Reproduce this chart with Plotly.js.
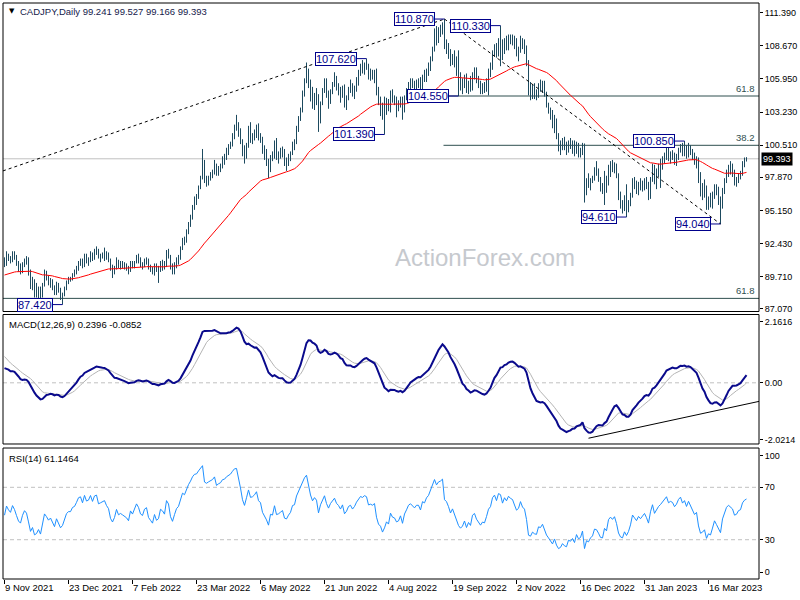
<!DOCTYPE html>
<html><head><meta charset="utf-8">
<script src="https://cdn.plot.ly/plotly-3.0.1.min.js"></script>
<style>html,body{margin:0;padding:0;background:#fff;}#chart{width:800px;height:600px;}</style>
</head><body><div id="chart"></div>
<script>
// ---- data (daily bars, weekdays from 9 Nov 2021) ----
const tickLabels = ['9 Nov 2021','23 Dec 2021','7 Feb 2022','23 Mar 2022','6 May 2022','21 Jun 2022','4 Aug 2022','19 Sep 2022','2 Nov 2022','16 Dec 2022','31 Jan 2023','16 Mar 2023'];
const tickBars = [0,32,64,96,128,160,192,224,256,288,320,352];

const O = [91.0,90.7,91.5,91.2,91.0,91.6,91.3,90.8,90.3,90.1,
90.7,91.1,90.9,90.1,89.0,89.3,88.3,88.4,88.7,88.1,
89.0,89.9,89.6,89.2,89.4,88.8,88.4,89.1,88.6,88.0,
88.2,88.8,89.3,89.5,89.5,89.9,90.0,90.4,90.9,91.0,
90.6,91.4,91.0,91.1,91.6,91.2,91.8,91.9,91.3,91.4,
91.5,91.6,91.3,91.1,90.4,90.1,90.4,91.0,90.6,90.7,
90.6,90.5,90.4,90.2,90.8,90.6,90.9,91.3,91.1,90.7,
90.6,91.0,91.1,90.5,90.3,90.1,90.6,90.2,90.3,90.9,
90.8,90.6,91.6,91.4,90.5,90.1,90.6,91.1,91.3,92.0,
92.7,92.6,93.4,94.0,94.6,95.5,96.1,96.2,97.0,97.8,
98.8,97.6,97.5,97.8,98.1,98.3,98.9,98.3,98.6,98.8,
99.4,99.5,100.0,100.4,100.6,101.3,102.0,102.1,101.6,100.9,
100.0,99.5,100.5,101.8,101.1,101.2,101.5,102.0,101.2,101.0,
100.0,99.6,99.1,98.4,99.6,99.5,100.7,99.6,99.7,99.9,
100.1,99.2,99.1,99.5,99.8,100.6,100.7,101.9,102.7,103.3,
104.7,105.8,106.6,105.5,104.6,103.9,104.5,104.2,102.5,103.9,
105.0,105.8,104.7,104.0,104.9,105.5,106.0,105.3,105.0,104.5,
105.2,103.9,104.3,105.1,105.3,104.8,105.2,105.9,106.5,106.9,
106.8,107.1,107.0,106.2,106.3,106.2,106.4,105.0,104.1,103.8,
102.9,103.3,103.9,103.6,104.8,104.3,104.2,103.7,103.8,104.3,
103.4,104.4,104.9,105.5,105.7,105.5,105.3,105.6,105.6,105.2,
106.1,106.0,106.6,106.9,107.6,108.4,109.6,109.2,109.8,110.0,
110.4,108.7,108.5,108.0,107.3,107.8,107.1,106.6,105.7,105.3,
105.5,106.0,105.1,105.6,105.2,106.3,106.5,105.8,105.4,105.0,
105.3,105.2,105.8,106.6,106.9,108.1,108.5,108.0,109.1,109.0,
108.2,109.0,108.7,109.4,109.2,109.1,108.6,108.1,108.3,109.1,
108.6,108.4,107.3,104.8,104.6,105.0,104.7,104.6,105.3,105.2,
105.5,104.8,103.9,103.4,102.9,102.2,102.6,101.3,100.4,100.5,
100.8,100.3,100.1,100.6,100.4,100.6,99.9,100.5,99.8,99.9,
100.4,96.7,97.5,97.2,97.6,97.8,98.5,98.4,97.8,97.0,
96.9,97.8,97.4,98.6,98.9,98.6,98.9,98.0,96.4,95.6,
95.4,96.0,95.3,95.7,96.4,97.6,97.2,96.8,97.3,97.0,
97.3,97.6,97.1,96.4,97.7,98.7,97.6,98.2,98.6,98.9,
99.3,99.6,100.1,99.5,99.7,99.6,99.2,99.5,100.1,100.4,
99.9,100.2,99.7,100.3,99.9,99.5,99.1,99.3,97.8,96.7,
96.8,97.0,95.6,96.0,95.8,96.4,97.1,96.6,95.9,95.4,
96.8,97.6,98.3,98.6,98.4,98.2,97.5,97.6,98.0,98.1,
98.9,99.241];

const H = [91.3,91.8,91.6,91.4,91.8,91.8,91.5,91.0,90.8,90.9,
91.2,91.4,91.3,90.3,89.7,89.5,89.2,88.9,88.9,89.2,
90.3,90.2,89.8,89.6,89.5,89.0,89.3,89.2,88.8,88.4,
88.9,89.4,89.7,89.7,90.0,90.3,90.6,91.0,91.2,91.2,
91.6,91.6,91.3,91.8,91.7,92.0,92.2,92.0,91.6,91.7,
92.1,91.8,91.7,91.2,90.7,90.6,91.3,91.1,91.0,91.0,
90.9,90.8,90.6,91.0,91.0,91.0,91.5,91.6,91.3,90.9,
91.2,91.3,91.2,90.7,90.5,90.8,90.8,90.6,91.0,91.1,
91.0,91.9,92.0,91.5,90.8,90.9,91.3,91.5,92.2,92.9,
93.0,93.6,94.2,94.8,95.6,96.3,96.5,97.2,98.0,100.2,
99.3,98.0,98.0,98.3,98.5,99.3,99.0,98.8,99.0,99.6,
99.8,100.3,100.6,100.8,101.5,102.2,103.0,102.4,101.9,101.0,
100.5,100.7,102.1,102.4,101.5,101.8,102.2,102.3,101.5,101.2,
100.5,100.2,99.4,99.7,100.0,100.9,101.1,100.0,100.3,100.4,
100.2,99.5,99.8,100.0,100.8,101.0,102.1,102.9,103.6,105.0,
106.0,107.3,106.8,105.9,105.3,104.8,105.2,104.7,104.1,105.2,
106.0,106.0,105.0,105.1,105.7,106.5,106.2,105.6,105.3,105.4,
105.5,104.6,105.3,105.9,105.6,105.4,106.1,106.7,107.2,107.5,
107.3,107.62,107.2,106.8,106.7,106.7,106.8,105.3,104.5,104.0,
104.5,104.4,104.3,105.0,105.1,104.6,104.5,104.2,104.5,104.5,
104.6,105.2,105.7,106.0,106.0,105.8,105.9,106.0,106.1,106.3,
106.7,106.8,107.3,107.8,108.6,110.1,110.3,110.2,110.4,110.6,
110.87,109.2,108.9,108.4,108.0,108.3,107.8,108.3,106.5,106.0,
106.3,106.4,105.8,106.2,106.5,106.9,106.9,106.2,105.8,105.6,
105.7,106.0,106.8,107.3,108.3,108.8,108.9,109.3,110.33,109.2,
109.3,109.5,109.6,109.6,109.6,109.5,109.3,108.6,109.5,109.3,
109.2,108.7,107.5,105.7,105.5,105.6,105.1,105.6,105.9,105.8,
105.8,104.9,104.0,103.6,103.4,103.0,102.7,101.5,100.9,101.1,
101.2,100.8,100.9,101.1,100.9,100.9,100.8,100.7,100.3,100.7,
100.65,97.8,98.2,97.8,98.0,98.7,99.2,98.6,97.9,97.4,
98.4,98.0,98.9,99.2,99.3,99.1,99.0,98.2,96.7,96.0,
96.4,97.3,96.0,96.6,97.8,97.9,97.6,97.5,97.8,97.6,
97.8,97.9,97.5,97.9,99.0,98.9,98.6,99.0,99.4,99.6,
99.9,100.4,100.3,100.0,100.1,99.9,99.8,100.3,100.6,100.7,
100.85,100.5,100.7,100.5,100.2,99.9,99.6,99.5,98.3,97.4,
97.7,97.2,96.3,96.6,96.7,97.3,97.3,97.1,96.3,97.0,
97.8,98.5,98.9,99.2,99.0,98.5,97.9,98.2,98.4,99.2,
99.5,99.527];

const L = [90.5,90.6,91.0,90.8,90.9,91.1,90.6,90.1,89.9,90.0,
90.5,90.7,89.8,88.7,88.6,88.0,88.0,87.9,87.8,88.0,
88.9,89.4,89.0,88.8,88.6,88.2,88.2,88.4,87.8,87.42,
88.1,88.6,89.1,89.3,89.4,89.7,89.9,90.2,90.6,90.4,
90.5,90.8,90.6,90.9,91.0,91.1,91.5,91.2,90.9,91.2,
91.0,91.1,90.9,90.2,89.6,89.9,90.3,90.4,90.3,90.4,
90.3,90.2,89.9,90.1,90.4,90.4,90.8,90.8,90.5,90.3,
90.5,90.7,90.3,90.1,89.9,89.8,90.1,89.2,90.1,90.2,
90.3,90.5,91.2,90.3,89.9,89.9,90.4,90.7,91.1,91.9,
92.3,92.5,93.2,93.8,94.4,95.2,95.6,96.1,96.9,97.7,
97.4,97.1,97.2,97.6,97.8,98.1,98.0,98.0,98.3,98.6,
98.9,99.3,99.7,100.2,100.4,101.0,101.7,101.2,100.6,99.6,
99.0,99.4,100.3,100.7,100.6,100.9,101.1,100.9,100.7,99.8,
99.3,98.8,97.8,98.3,99.2,99.4,99.3,99.0,99.4,99.5,
98.8,98.4,98.8,99.2,99.7,100.1,100.6,101.6,102.5,103.2,
104.5,105.6,105.2,104.1,103.5,103.4,103.8,101.6,102.3,103.8,
104.8,104.4,103.5,103.9,104.7,105.3,105.0,104.6,104.0,104.4,
103.6,103.4,104.2,104.8,104.5,104.3,104.9,105.4,106.2,106.4,
106.3,106.7,105.9,105.8,105.9,105.6,104.6,103.8,102.9,102.6,
101.39,103.0,103.3,103.2,104.0,103.8,102.8,103.3,103.6,102.6,
103.2,104.2,104.7,105.1,105.2,104.9,105.0,105.2,104.9,105.0,
105.7,105.7,106.2,106.6,107.4,108.2,108.7,108.9,109.4,109.6,
108.4,108.0,107.6,107.0,107.1,106.9,106.2,104.55,105.0,104.7,
105.2,104.8,104.7,104.9,105.0,105.9,105.6,105.2,104.7,104.7,
104.8,104.9,104.6,106.1,106.7,107.8,107.7,107.8,107.0,107.5,
108.0,108.3,108.3,108.8,108.7,108.4,107.8,107.4,108.1,108.4,
108.0,107.0,104.6,104.2,104.3,104.3,104.2,104.4,104.9,104.8,
104.5,103.6,103.1,102.6,101.9,101.5,101.0,100.0,99.7,100.1,
100.1,99.7,99.9,100.2,99.8,99.6,99.8,99.5,99.5,99.7,
95.8,96.4,97.0,96.8,97.4,97.6,98.0,97.5,96.7,96.5,
95.6,96.6,97.2,97.9,98.3,98.2,97.8,96.0,95.3,94.9,
95.1,94.61,95.0,95.5,96.2,96.9,96.5,96.4,96.8,96.7,
96.8,96.9,96.0,96.1,97.5,97.3,96.9,97.9,97.0,98.5,
99.0,99.3,99.2,99.0,99.3,98.9,98.8,99.3,99.9,99.6,
99.6,99.4,99.5,99.7,99.3,98.9,98.6,97.4,96.3,96.0,
96.2,95.2,95.2,95.4,95.3,96.1,96.4,95.6,94.04,95.3,
96.5,97.4,97.9,98.1,97.9,97.2,97.1,97.4,97.7,98.0,
98.7,99.166];

const C = [90.7,91.5,91.2,91.0,91.6,91.3,90.8,90.3,90.1,90.7,
91.1,90.9,90.1,89.0,89.3,88.3,88.4,88.7,88.1,89.0,
89.9,89.6,89.2,89.4,88.8,88.4,89.1,88.6,88.0,88.2,
88.8,89.3,89.5,89.5,89.9,90.0,90.4,90.9,91.0,90.6,
91.4,91.0,91.1,91.6,91.2,91.8,91.9,91.3,91.4,91.5,
91.6,91.3,91.1,90.4,90.1,90.4,91.0,90.6,90.7,90.6,
90.5,90.4,90.2,90.8,90.6,90.9,91.3,91.1,90.7,90.6,
91.0,91.1,90.5,90.3,90.1,90.6,90.2,90.3,90.9,90.8,
90.6,91.6,91.4,90.5,90.1,90.6,91.1,91.3,92.0,92.7,
92.6,93.4,94.0,94.6,95.5,96.1,96.2,97.0,97.8,98.8,
97.6,97.5,97.8,98.1,98.3,98.9,98.3,98.6,98.8,99.4,
99.5,100.0,100.4,100.6,101.3,102.0,102.1,101.6,100.9,100.0,
99.5,100.5,101.8,101.1,101.2,101.5,102.0,101.2,101.0,100.0,
99.6,99.1,98.4,99.6,99.5,100.7,99.6,99.7,99.9,100.1,
99.2,99.1,99.5,99.8,100.6,100.7,101.9,102.7,103.3,104.7,
105.8,106.6,105.5,104.6,103.9,104.5,104.2,102.5,103.9,105.0,
105.8,104.7,104.0,104.9,105.5,106.0,105.3,105.0,104.5,105.2,
103.9,104.3,105.1,105.3,104.8,105.2,105.9,106.5,106.9,106.8,
107.1,107.0,106.2,106.3,106.2,106.4,105.0,104.1,103.8,102.9,
103.3,103.9,103.6,104.8,104.3,104.2,103.7,103.8,104.3,103.4,
104.4,104.9,105.5,105.7,105.5,105.3,105.6,105.6,105.2,106.1,
106.0,106.6,106.9,107.6,108.4,109.6,109.2,109.8,110.0,110.4,
108.7,108.5,108.0,107.3,107.8,107.1,106.6,105.7,105.3,105.5,
106.0,105.1,105.6,105.2,106.3,106.5,105.8,105.4,105.0,105.3,
105.2,105.8,106.6,106.9,108.1,108.5,108.0,109.1,109.0,108.2,
109.0,108.7,109.4,109.2,109.1,108.6,108.1,108.3,109.1,108.6,
108.4,107.3,104.8,104.6,105.0,104.7,104.6,105.3,105.2,105.5,
104.8,103.9,103.4,102.9,102.2,102.6,101.3,100.4,100.5,100.8,
100.3,100.1,100.6,100.4,100.6,99.9,100.5,99.8,99.9,100.4,
96.7,97.5,97.2,97.6,97.8,98.5,98.4,97.8,97.0,96.9,
97.8,97.4,98.6,98.9,98.6,98.9,98.0,96.4,95.6,95.4,
96.0,95.3,95.7,96.4,97.6,97.2,96.8,97.3,97.0,97.3,
97.6,97.1,96.4,97.7,98.7,97.6,98.2,98.6,98.9,99.3,
99.6,100.1,99.5,99.7,99.6,99.2,99.5,100.1,100.4,99.9,
100.2,99.7,100.3,99.9,99.5,99.1,99.3,97.8,96.7,96.8,
97.0,95.6,96.0,95.8,96.4,97.1,96.6,95.9,95.4,96.8,
97.6,98.3,98.6,98.4,98.2,97.5,97.6,98.0,98.1,98.9,
99.24,99.393];

const priceTicks = [111.39,108.67,105.95,103.23,100.51,97.87,95.15,92.43,89.71,87.07];
const lastPrice = 99.393;
const pivotBars = [29,181,190,220,227,248,311,340,358];
const pivotSide = ['L','H','L','H','L','H','L','H','L'];
const fibLevels = [104.55,100.50,87.93];
const fibNames = ['61.8','38.2','61.8'];
const fibStart = [222,219.5,-0.75];
const trendStartPrice = 98.40;          // dotted line at the left edge
const macdTrend = [292,-1.96,377.25,-0.657];
// indicator seeds (values read at the first bar)
const emaSeed = 89.85, e12Seed = 91.2, e26Seed = 90.68, sigSeed = 0.93, rsiGainSeed = 0.19, rsiLossSeed = 0.20;

// ---- indicators derived from closes ----
function ema(src,n,seed){const k=2/(n+1);let e=seed;return src.map((v,i)=>{if(i>0)e+=k*(v-e);return e;});}
const X = C.map((_,i)=>i);
const ema55 = ema(C,55,emaSeed);
const e12 = ema(C,12,e12Seed), e26 = ema(C,26,e26Seed);
const macd = e12.map((v,i)=>v-e26[i]);
const signal = ema(macd,9,sigSeed);
const rsi = [];
{let ag=rsiGainSeed, al=rsiLossSeed; rsi.push(100*ag/(ag+al));
 for(let i=1;i<C.length;i++){const d=C[i]-C[i-1];ag=(ag*13+Math.max(d,0))/14;al=(al*13+Math.max(-d,0))/14;rsi.push(100*ag/(ag+al));}}

const FONT='Liberation Sans, Arial, sans-serif';
const barColor='#1d4a5f', navy='#00008b', fibColor='#2f4f4f';
const XMAX=377.25, XMIN=-0.75;
const dom={main:[0.4644,1],macd:[0.2344,0.4592],rsi:[0,0.2274]};

const traces=[
 {type:'ohlc',x:X,open:O,high:H,low:L,close:C,xaxis:'x',yaxis:'y',tickwidth:0,
  increasing:{line:{color:barColor,width:1}},decreasing:{line:{color:barColor,width:1}},hoverinfo:'skip'},
 {type:'scatter',mode:'lines',x:X,y:ema55,xaxis:'x',yaxis:'y',line:{color:'#ff0000',width:1},hoverinfo:'skip'},
 {type:'scatter',mode:'lines',x:X,y:signal,xaxis:'x',yaxis:'y2',line:{color:'#b4b4b4',width:1},hoverinfo:'skip'},
 {type:'scatter',mode:'lines',x:X,y:macd,xaxis:'x',yaxis:'y2',line:{color:'#0a0a8c',width:2},hoverinfo:'skip'},
 {type:'scatter',mode:'lines',x:X,y:rsi,xaxis:'x',yaxis:'y3',line:{color:'#1e90ff',width:1},hoverinfo:'skip'}
];

const shapes=[];
shapes.push({type:'line',xref:'paper',x0:0,x1:1,yref:'y',y0:lastPrice,y1:lastPrice,line:{color:'#c0c0c0',width:1},layer:'below'});
fibLevels.forEach((v,i)=>shapes.push({type:'line',xref:'x',x0:fibStart[i],x1:XMAX,yref:'y',y0:v,y1:v,line:{color:fibColor,width:1},layer:'below'}));
shapes.push({type:'line',xref:'x',yref:'y',x0:XMIN,y0:trendStartPrice,x1:220,y1:H[220],line:{color:'#000',width:1,dash:'3px,3px'}});
shapes.push({type:'line',xref:'x',yref:'y',x0:220,y0:H[220],x1:358,y1:L[358],line:{color:'#000',width:1,dash:'3px,3px'}});
pivotBars.forEach((b,i)=>{const p=pivotSide[i]==='H'?H[b]:L[b];
 shapes.push({type:'line',xref:'x',yref:'y',x0:b-5,x1:b,y0:p,y1:p,line:{color:navy,width:1}});});
shapes.push({type:'line',xref:'paper',x0:0,x1:1,yref:'y2',y0:0,y1:0,line:{color:'#c0c0c0',width:1,dash:'4px,3px'},layer:'below'});
[30,70].forEach(v=>shapes.push({type:'line',xref:'paper',x0:0,x1:1,yref:'y3',y0:v,y1:v,line:{color:'#c0c0c0',width:1,dash:'4px,3px'},layer:'below'}));
shapes.push({type:'line',xref:'x',yref:'y2',x0:macdTrend[0],y0:macdTrend[1],x1:macdTrend[2],y1:macdTrend[3],line:{color:'#000',width:1}});
Object.values(dom).forEach(d=>shapes.push({type:'rect',xref:'paper',yref:'paper',x0:0,x1:1,y0:d[0],y1:d[1],line:{color:'#000',width:1},fillcolor:'rgba(0,0,0,0)',layer:'above'}));

const ann=[];
pivotBars.forEach((b,i)=>{const p=pivotSide[i]==='H'?H[b]:L[b];
 ann.push({xref:'x',yref:'y',x:b-5,y:p,xanchor:'right',yanchor:'middle',text:p.toFixed(3),showarrow:false,
  font:{family:FONT,size:11,color:navy},bgcolor:'#fff',bordercolor:navy,borderwidth:1,borderpad:0});});
fibLevels.forEach((v,i)=>ann.push({xref:'paper',yref:'y',x:1,y:v,xanchor:'right',yanchor:'bottom',xshift:-2,yshift:0,
  text:fibNames[i],showarrow:false,font:{family:FONT,size:9.5,color:fibColor}}));
ann.push({xref:'paper',yref:'paper',x:0.6376,y:0.5573,text:'ActionForex.com',showarrow:false,xanchor:'center',yanchor:'middle',
  font:{family:FONT,size:24,color:'#c6c9ce'}});
ann.push({xref:'paper',yref:'paper',x:0.0053,y:0.9861,text:'\u25BC',showarrow:false,xanchor:'left',yanchor:'middle',font:{family:'DejaVu Sans',size:7,color:'#000'}});
ann.push({xref:'paper',yref:'paper',x:0.0198,y:0.9861,text:'CADJPY,Daily 99.241 99.527 99.166 99.393',showarrow:false,xanchor:'left',yanchor:'middle',font:{family:FONT,size:9.5,color:'#14204a'}});
ann.push({xref:'paper',yref:'paper',x:0.0053,y:0.4418,text:'MACD(12,26,9) 0.2396 -0.0852',showarrow:false,xanchor:'left',yanchor:'middle',font:{family:FONT,size:9.5,color:'#000'}});
ann.push({xref:'paper',yref:'paper',x:0.0053,y:0.2095,text:'RSI(14) 61.1464',showarrow:false,xanchor:'left',yanchor:'middle',font:{family:FONT,size:9.5,color:'#000'}});
ann.push({xref:'paper',yref:'y',x:1,y:lastPrice,xanchor:'left',yanchor:'middle',xshift:2,text:lastPrice.toFixed(3),showarrow:false,
  font:{family:FONT,size:9,color:'#fff'},bgcolor:'#000',borderpad:1});

const yBase={side:'right',ticks:'outside',ticklen:3,tickcolor:'#000',showgrid:false,zeroline:false,showline:false,anchor:'x',fixedrange:true,
  tickfont:{family:FONT,size:9,color:'#000'}};
const layout={
 width:800,height:600,margin:{l:3,r:41,t:3,b:21},paper_bgcolor:'#fff',plot_bgcolor:'#fff',showlegend:false,
 xaxis:{range:[XMIN,XMAX],anchor:'y3',tickvals:tickBars,ticktext:tickLabels,ticks:'outside',ticklen:4,tickcolor:'#000',tickangle:0,
   ticklabelposition:'outside right',showgrid:false,zeroline:false,showline:false,fixedrange:true,rangeslider:{visible:false},
   tickfont:{family:FONT,size:9.5,color:'#000'}},
 yaxis:Object.assign({},yBase,{domain:dom.main,range:[86.852,112.187],tickvals:priceTicks,ticktext:priceTicks.map(v=>v.toFixed(3))}),
 yaxis2:Object.assign({},yBase,{domain:dom.macd,range:[-2.164,2.416],tickvals:[2.1616,0,-2.0214],ticktext:['2.1616','0.00','-2.0214']}),
 yaxis3:Object.assign({},yBase,{domain:dom.rsi,range:[0,100],tickvals:[5.1,30,70,94.1],ticktext:['0','30','70','100']}),
 shapes:shapes,annotations:ann,hovermode:false
};
Plotly.newPlot('chart',traces,layout,{staticPlot:true,displayModeBar:false});
</script></body></html>
